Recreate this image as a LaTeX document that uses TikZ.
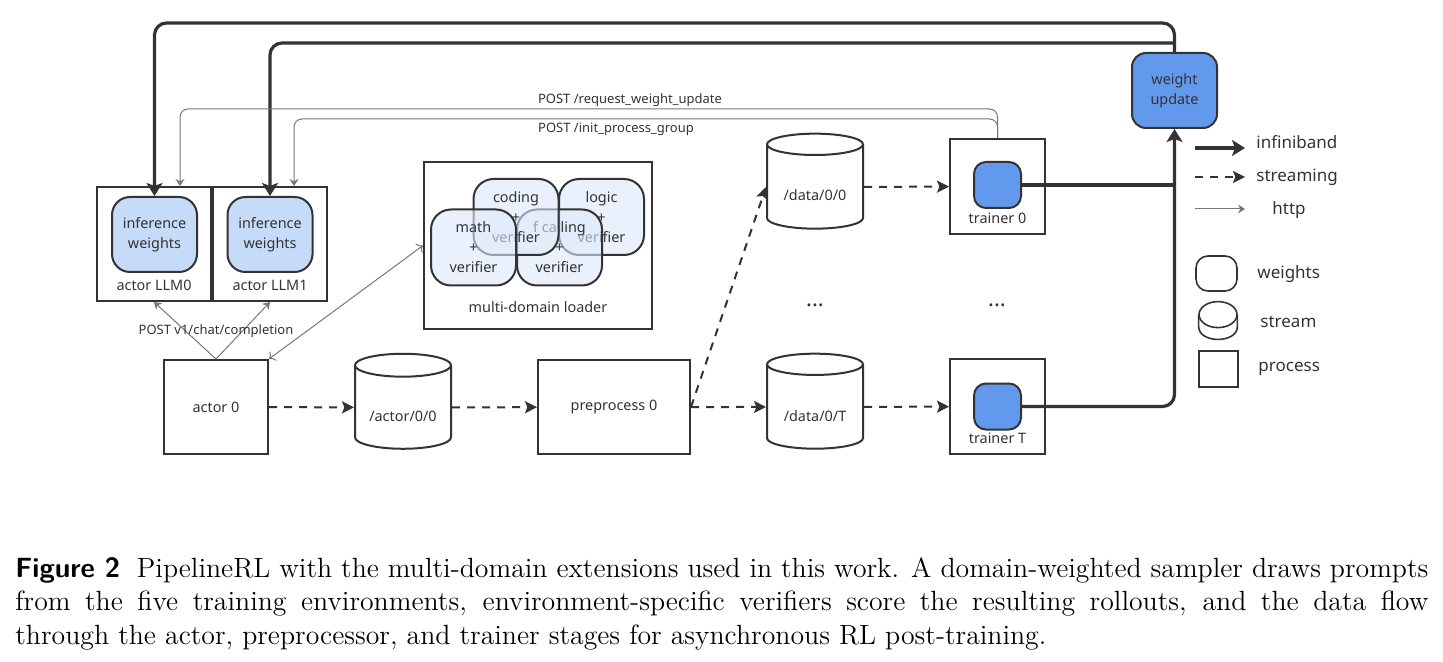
\documentclass[tikz,border=0pt]{standalone}
\usepackage{fontspec}
\newfontfamily\diafont{Noto Sans}
\usetikzlibrary{arrows.meta,shapes.geometric}
\definecolor{ink}{HTML}{333333}
\definecolor{wlight}{HTML}{C6DBF7}
\definecolor{wmid}{HTML}{6399EC}
\definecolor{vfill}{HTML}{DDE9FA}
\definecolor{httpgray}{HTML}{777777}

\begin{document}
\begin{tikzpicture}[
				x=0.5pt, y=-0.5pt,
				every node/.style={font=\diafont\fontsize{7.2}{10}\selectfont, text=ink, align=center, inner sep=0pt},
				proc/.style={draw=ink, line width=1pt, fill=white},
				wbox/.style={draw=ink, line width=1pt, rounded corners=9pt, fill=wlight, minimum width=42.5pt, minimum height=37.5pt},
				vbox/.style={draw=ink, line width=1pt, rounded corners=10pt, fill=vfill, fill opacity=0.6, text opacity=1, minimum width=42.5pt, minimum height=38pt},
				store/.style={cylinder, shape border rotate=90, aspect=0.34, draw=ink, line width=1pt, fill=white, minimum width=48pt, minimum height=47.5pt, text height=15.5pt, text depth=1.5pt},
				ib/.style={draw=ink, line width=1.6pt, -{Stealth[length=6.5pt, width=8pt, inset=1.5pt]}},
				ibline/.style={draw=ink, line width=1.6pt},
				stream/.style={draw=ink, line width=1pt, dash pattern=on 4pt off 3.5pt, -{Stealth[length=6pt, width=6pt, inset=1.2pt]}},
				http/.style={draw=httpgray, line width=0.5pt, -{Stealth[length=3.5pt, width=4.5pt]}},
				lgd/.style={font=\diafont\fontsize{8.5}{10}\selectfont, anchor=west},
				post/.style={font=\diafont\fontsize{6.5}{8}\selectfont},
				dots/.style={font=\diafont\bfseries\fontsize{11}{12}\selectfont}
				]
				\useasboundingbox (0,0) rectangle (1443,662);
				
				% actor LLMs
				\node[proc, minimum width=57pt, minimum height=57pt] (llm0) at (154,244) {};
				\node[proc, minimum width=57pt, minimum height=57pt] (llm1) at (270,244) {};
				\node[wbox] (iw0) at (154.5,234.5) {inference\\weights};
				\node[wbox] (iw1) at (270,234.5) {inference\\weights};
				\node (lbl0) at (154,285) {actor LLM0};
				\node (lbl1) at (270,285) {actor LLM1};
				
				% loader
				\node[proc, minimum width=114pt, minimum height=83.5pt] (loader) at (538,245.5) {};
				\node[vbox] (vlogic) at (601.5,217) {logic\\+\\verifier};
				\node[vbox] (vcall) at (559.5,247.5) {f calling\\+\\verifier};
				\node[vbox] (vcode) at (516,217) {coding\\+\\verifier};
				\node[vbox] (vmath) at (473.5,247.5) {math\\+\\verifier};
				\node (loadlbl) at (538,307) {multi-domain loader};
				
				% actor, streams, preprocess
				\node[proc, minimum width=52pt, minimum height=47pt] (act0) at (216,407) {actor 0};
				\node[store] (sact) at (403,407.5) {/actor/0/0};
				\node[proc, minimum width=76pt, minimum height=47pt] (pre0) at (614,407) {preprocess 0};
				\node[store] (d00) at (815,187) {/data/0/0};
				\node[store] (d0T) at (815,407) {/data/0/T};
				\node[dots] (dots1) at (815,305) {...};
				\node[dots] (dots2) at (997,305) {...};
				
				% trainers
				\node[proc, minimum width=47.5pt, minimum height=47.5pt] (tr0) at (997.5,186.5) {};
				\node[wbox, fill=wmid, rounded corners=6pt, minimum width=23.5pt, minimum height=23pt] (w0) at (997.5,185) {};
				\node (trlbl0) at (997.5,218) {trainer 0};
				\node[proc, minimum width=47.5pt, minimum height=47.5pt] (trT) at (997.5,406.5) {};
				\node[wbox, fill=wmid, rounded corners=6pt, minimum width=23.5pt, minimum height=23pt] (wT) at (997.5,406.5) {};
				\node (trlblT) at (997.5,438) {trainer T};
				
				\node[wbox, fill=wmid, rounded corners=7pt] (wu) at (1174.5,90.5) {weight\\update};
				\coordinate (tap) at (1174.5,43);
				
				% streaming
				\draw[stream] (act0) -- (sact);
				\draw[stream] (sact) -- (pre0);
				\draw[stream] (pre0.east) -- (d0T.west);
				\draw[stream] (pre0.east) -- (d00.west);
				\draw[stream] (d00) -- (tr0);
				\draw[stream] (d0T) -- (trT);
				
				% infiniband
				\draw[ibline] (w0.east) -- (w0.east -| wu.south);
				\draw[ib, rounded corners=6pt] (wT.east) -| (wu.south);
				\draw[ib, rounded corners=6pt] (wu.north) -- ++(0,-29) -| (iw0.north);
				\draw[ib, rounded corners=6pt] (tap) -| (iw1.north);
				
				% http
				\draw[http, rounded corners=4pt] (tr0.north) -- ++(0,-29) -| ([xshift=13pt]llm0.north);
				\draw[http, rounded corners=4pt] (tr0.north) -- ++(0,-19) -| ([xshift=12pt]llm1.north);
				\node[post] (reqlbl) at (630,100) {POST /request\_weight\_update};
				\node[post] (initlbl) at (616,129) {POST /init\_process\_group};
				\draw[http] (act0.north) -- (llm0.south);
				\draw[http] (act0.north) -- (llm1.south);
				\node[post] (chatlbl) at (216,331) {POST v1/chat/completion};
				\draw[http, <->] (act0.north east) -- (loader.west);
				
				% legend
				\coordinate (ibA) at (1195,148);
				\coordinate (ibB) at (1245,148);
				\coordinate (stA) at (1195,177);
				\coordinate (stB) at (1245,177);
				\coordinate (htA) at (1195,209);
				\coordinate (htB) at (1245,209);
				\draw[ib] (ibA) -- (ibB);
				\draw[stream] (stA) -- (stB);
				\draw[http] (htA) -- (htB);
				\node[lgd] (lgib) at (1256,142) {infiniband};
				\node[lgd] (lgst) at (1256,177) {streaming};
				\node[lgd] (lght) at (1272,210) {http};
				\node[draw=ink, line width=0.8pt, rounded corners=6pt, minimum width=20.5pt, minimum height=17.5pt] (lgw) at (1216.5,273.5) {};
				\node[minimum width=19pt, minimum height=18.5pt] (lgs) at (1218,320.5) {};
				\draw[ink, line width=0.8pt] ([yshift=-6.5pt]lgs.north) ellipse [x radius=9.5pt, y radius=6.5pt];
				\draw[ink, line width=0.8pt] ([yshift=-6.5pt]lgs.north west) -- ([yshift=6.5pt]lgs.south west)
					.. controls ([yshift=-2.2pt]lgs.south west) and ([yshift=-2.2pt]lgs.south east) .. ([yshift=6.5pt]lgs.south east)
					-- ([yshift=-6.5pt]lgs.north east);
				\node[draw=ink, line width=0.8pt, minimum width=19.5pt, minimum height=18pt] (lgp) at (1218.5,369) {};
				\node[lgd] (lgwt) at (1257,274) {weights};
				\node[lgd] (lgstt) at (1260,322) {stream};
				\node[lgd] (lgpt) at (1258,369) {process};
				
				% caption
				\node[anchor=north west, text width=706.5pt, align=justify, text=black, font=\rmfamily\fontsize{13.9}{16.8}\selectfont] (caption) at (15,557) {{\sffamily\bfseries Figure 2}\hspace{0.6em}PipelineRL with the multi-domain extensions used in this work. A domain-weighted sampler draws prompts\linebreak from the five training environments, environment-specific verifiers score the resulting rollouts, and the data flow\linebreak through the actor, preprocessor, and trainer stages for asynchronous RL post-training.};
			\end{tikzpicture}
\end{document}
